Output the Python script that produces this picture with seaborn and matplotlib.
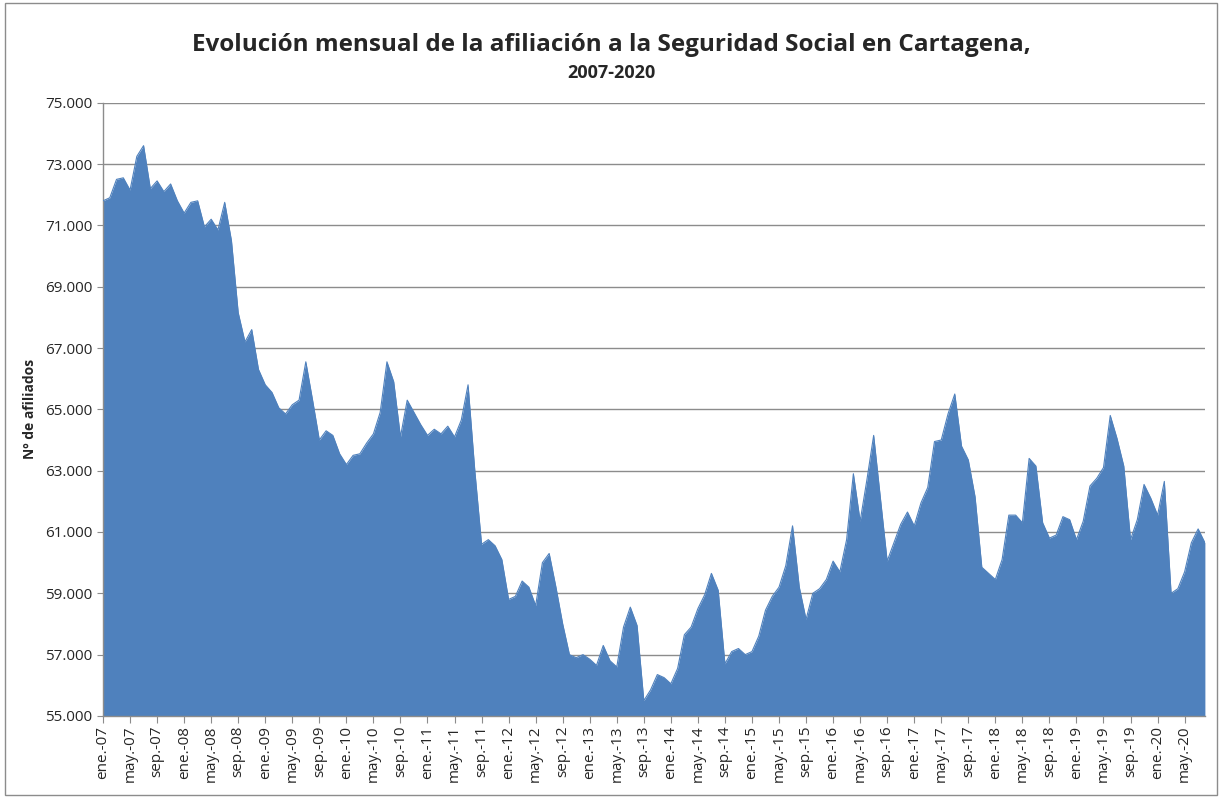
import numpy as np
import pandas as pd
import matplotlib
matplotlib.use("Agg")
import matplotlib.pyplot as plt
import seaborn as sns
from matplotlib.ticker import FuncFormatter

# afiliados por mes, ene-07 .. ago-20
y2007 = [71800, 71900, 72500, 72550, 72150, 73250, 73600, 72200, 72450, 72100, 72350, 71800]
y2008 = [71400, 71750, 71800, 70950, 71200, 70850, 71750, 70500, 68150, 67200, 67600, 66300]
y2009 = [65800, 65550, 65050, 64850, 65150, 65300, 66550, 65300, 64000, 64300, 64150, 63550]
y2010 = [63200, 63500, 63550, 63900, 64200, 64900, 66550, 65900, 64100, 65300, 64900, 64500]
y2011 = [64150, 64350, 64200, 64450, 64100, 64650, 65800, 63000, 60600, 60750, 60550, 60100]
y2012 = [58800, 58900, 59400, 59200, 58600, 60000, 60300, 59200, 58000, 57000, 56900, 57000]
y2013 = [56850, 56650, 57300, 56800, 56600, 57900, 58550, 57950, 55500, 55850, 56350, 56250]
y2014 = [56050, 56550, 57650, 57900, 58500, 58950, 59650, 59100, 56700, 57100, 57200, 57000]
y2015 = [57100, 57600, 58450, 58900, 59200, 59900, 61200, 59200, 58150, 59000, 59150, 59450]
y2016 = [60050, 59700, 60750, 62900, 61350, 62700, 64150, 62100, 60050, 60650, 61250, 61650]
y2017 = [61200, 61950, 62450, 63950, 64000, 64850, 65500, 63800, 63350, 62150, 59850, 59650]
y2018 = [59450, 60100, 61550, 61550, 61300, 63400, 63150, 61300, 60800, 60900, 61500, 61400]
y2019 = [60750, 61350, 62500, 62750, 63100, 64800, 64050, 63150, 60750, 61400, 62550, 62100]
y2020 = [61550, 62650, 59000, 59150, 59700, 60650, 61100, 60650]

afiliados = y2007 + y2008 + y2009 + y2010 + y2011 + y2012 + y2013 + y2014 + y2015 + y2016 + y2017 + y2018 + y2019 + y2020
meses = ["ene.", "feb.", "mar.", "abr.", "may.", "jun.", "jul.", "ago.", "sep.", "oct.", "nov.", "dic."]
etiquetas = [f"{meses[i % 12]}-{7 + i // 12:02d}" for i in range(len(afiliados))]

TITLE = "Evolución mensual de la afiliación a la Seguridad Social en Cartagena,"
SUBTITLE = "2007-2020"
BLUE = "#4F81BD"


def main():
    df = pd.DataFrame({"mes": np.arange(len(afiliados)), "afiliados": afiliados, "etiqueta": etiquetas})

    sns.set_style("white")
    plt.rcParams["font.family"] = ["Open Sans", "DejaVu Sans"]

    fig = plt.figure(figsize=(12.22, 7.98), dpi=100)
    ax = fig.add_axes([0.0843, 0.1028, 0.9017, 0.7685])

    ax.fill_between(df["mes"], df["afiliados"], 55000, color=BLUE, linewidth=0, zorder=2)
    sns.lineplot(data=df, x="mes", y="afiliados", color=BLUE, linewidth=0.8, ax=ax, zorder=3)

    ax.set_ylim(55000, 75000)
    ax.set_xlim(0, len(afiliados) - 1)
    ax.set_yticks(np.arange(55000, 75001, 2000))
    ax.yaxis.set_major_formatter(FuncFormatter(lambda v, p: f"{int(v):,}".replace(",", ".")))
    ax.grid(axis="y", color="#8C8C8C", linewidth=1.0, zorder=1)
    ax.set_axisbelow(True)

    ticks = df["mes"][::4]
    ax.set_xticks(ticks)
    ax.set_xticklabels(df["etiqueta"][::4], rotation=90, fontsize=11)
    ax.tick_params(axis="y", labelsize=11, length=4, color="#8C8C8C", direction="out", left=True)
    ax.tick_params(axis="x", length=5, color="#8C8C8C", direction="out", bottom=True, pad=2)

    for s in ["top", "right"]:
        ax.spines[s].set_visible(False)
    for s in ["left", "bottom"]:
        ax.spines[s].set_color("#8C8C8C")
        ax.spines[s].set_linewidth(1.0)

    ax.set_xlabel("")
    ax.set_ylabel("Nº de afiliados", fontsize=10, fontweight="bold", labelpad=6)

    fig.text(0.5, 0.943, TITLE, ha="center", va="center", fontsize=17.5, fontweight="bold")
    fig.text(0.5, 0.909, SUBTITLE, ha="center", va="center", fontsize=13, fontweight="bold")

    fig.patches.append(plt.Rectangle((0.004, 0.004), 0.992, 0.992, transform=fig.transFigure,
                                     fill=False, edgecolor="#8C8C8C", linewidth=1.0))

    fig.savefig("out.png", dpi=100)
    plt.close(fig)


if __name__ == "__main__":
    main()
